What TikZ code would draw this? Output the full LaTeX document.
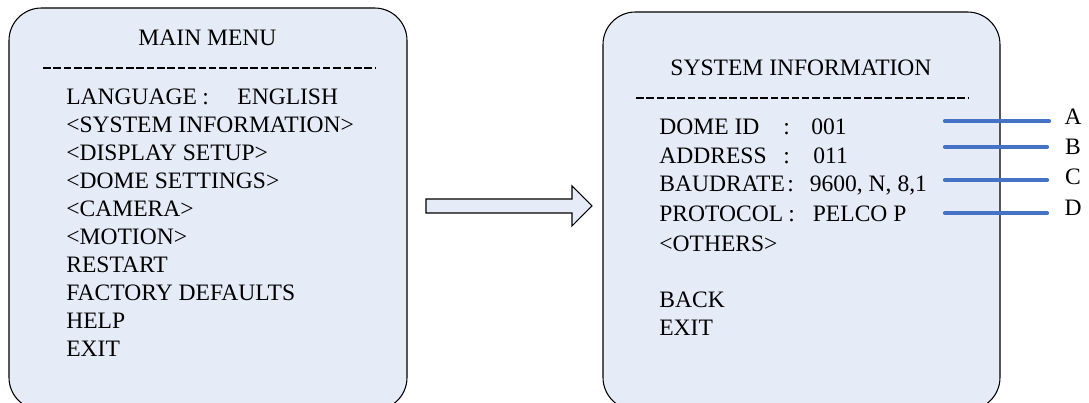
\documentclass[tikz,border=0pt]{standalone}
\usepackage{fontspec}
\setmainfont{Liberation Serif}
\usepackage{tikz}

\definecolor{screenfill}{RGB}{230,236,247}
\definecolor{markblue}{RGB}{68,114,196}

\tikzset{
	screen/.style={draw=black, fill=screenfill, rounded corners=0.65cm, line width=0.6pt},
	item/.style={anchor=west, inner sep=0pt, font=\fontsize{13.4}{16}\selectfont},
	title/.style={inner sep=0pt, font=\fontsize{13.4}{16}\selectfont},
	rule/.style={line width=1.1pt, dash pattern=on 4.3pt off 1.6pt},
	pointer/.style={draw=markblue, line width=2.4pt, line cap=round},
	tag/.style={inner sep=0pt, font=\fontsize{13.4}{16}\selectfont}
}

\begin{document}
\begin{tikzpicture}
	\useasboundingbox (0,0) rectangle (21.78,8.06);
	% the two screens
	\draw[screen] (0.18,-0.14) rectangle (8.14,7.90);
	\draw[screen] (12.06,-0.14) rectangle (20.00,7.82);
	% block arrow between them
	\draw[fill=screenfill, line width=0.6pt] (8.52,4.08) -- (11.44,4.08) -- (11.44,4.34) -- (11.84,3.94)
		-- (11.44,3.54) -- (11.44,3.80) -- (8.52,3.80) -- cycle;

	% main menu
	\node[title] (mainttl) at (4.15,7.30) {MAIN MENU};
	\draw[rule] (0.86,6.70) -- (7.50,6.70);
	\node[item] (lang) at (1.32,6.12) {\makebox[2.72cm][l]{LANGUAGE}:\hspace{0.57cm}ENGLISH};
	\foreach \name [count=\i] in {<SYSTEM INFORMATION>, <DISPLAY SETUP>, <DOME SETTINGS>, <CAMERA>,
		<MOTION>, RESTART, FACTORY DEFAULTS, HELP, EXIT}
		\node[item] (menu\i) at (1.32,6.12-0.56*\i) {\name};

	% system information
	\node[title] (systtl) at (16.02,6.70) {SYSTEM INFORMATION};
	\draw[rule] (12.72,6.10) -- (19.36,6.10);
	\node[item] (domeid) at (13.18,5.52) {\makebox[2.48cm][l]{DOME ID}:\hspace{0.43cm}001};
	\node[item] (addr) at (13.18,4.95) {\makebox[2.48cm][l]{ADDRESS}:\hspace{0.47cm}011};
	\node[item] (baud) at (13.18,4.36) {\makebox[2.56cm][l]{BAUDRATE}:\hspace{0.32cm}9600, N, 8,1};
	\node[item] (proto) at (13.18,3.78) {\makebox[2.58cm][l]{PROTOCOL}:\hspace{0.36cm}PELCO P};
	\node[item] (others) at (13.18,3.18) {<OTHERS>};
	\node[item] (back) at (13.18,2.06) {BACK};
	\node[item] (exit) at (13.18,1.50) {EXIT};

	% marker lines with letters
	\node[tag] (tagA) at (21.46,5.72) {A};
	\node[tag] (tagB) at (21.46,5.12) {B};
	\node[tag] (tagC) at (21.46,4.52) {C};
	\node[tag] (tagD) at (21.46,3.90) {D};
	\coordinate (startA) at (18.90,5.64);
	\coordinate (startB) at (18.90,5.12);
	\coordinate (startC) at (18.90,4.46);
	\coordinate (startD) at (18.90,3.80);
	\coordinate (endA) at (20.98,5.64);
	\coordinate (endB) at (20.94,5.12);
	\coordinate (endC) at (20.94,4.46);
	\coordinate (endD) at (20.94,3.80);
	\draw[pointer] (startA) -- (endA);
	\draw[pointer] (startB) -- (endB);
	\draw[pointer] (startC) -- (endC);
	\draw[pointer] (startD) -- (endD);
\end{tikzpicture}
\end{document}
